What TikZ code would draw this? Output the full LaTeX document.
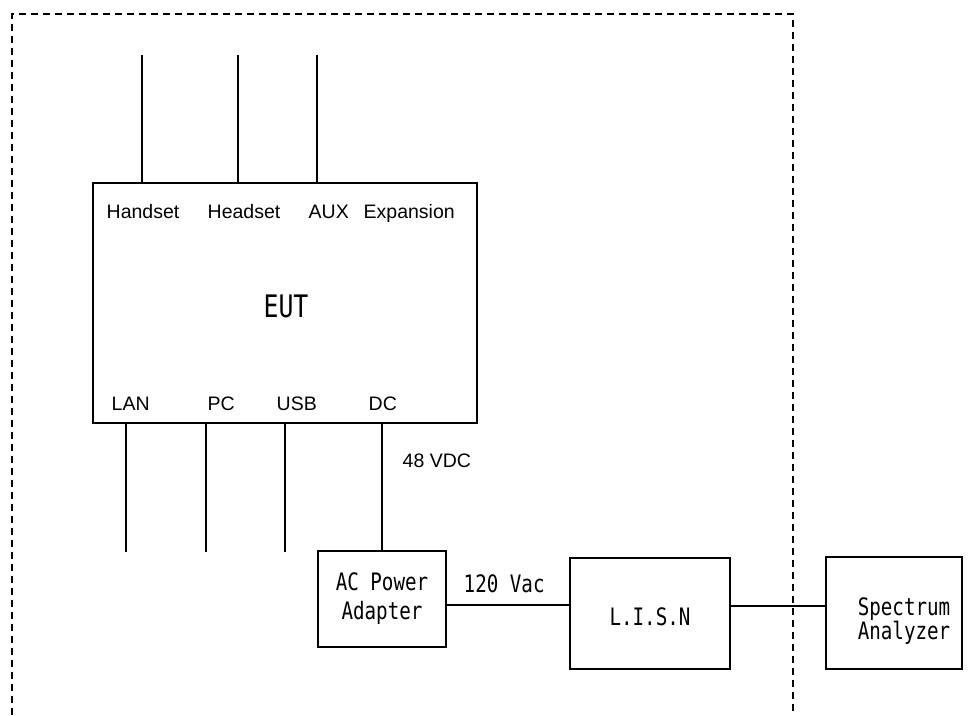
\documentclass[tikz,border=0pt]{standalone}
\usepackage{fontspec}
\setmainfont{Liberation Sans}
\newfontfamily\narrowmono[FakeStretch=0.8]{DejaVu Sans Mono}
\usetikzlibrary{positioning}

\tikzset{
    unit/.style={draw, line width=1.6pt, align=center, inner sep=0pt},
    port/.style={inner sep=0pt, anchor=base west, font=\fontsize{19.5}{21}\selectfont},
    lbl/.style={inner sep=0pt, font=\narrowmono\fontsize{24}{29}\selectfont}
}

\begin{document}
\begin{tikzpicture}[x=1pt, y=-1pt, line width=1.4pt]
            \useasboundingbox (0,0) rectangle (972,715);

            % test site boundary
            \draw [dash pattern=on 7pt off 5pt, line width=1.4pt] (12,715) -- (12,14) -- (793,14) -- (793,715);

            % equipment
            \node [unit, minimum width=384pt, minimum height=240pt] (eut) at (285,303) {};
            \node [lbl, font=\narrowmono\fontsize{31}{32}\selectfont] (eutname) at (286,306) {EUT};
            \node [unit, minimum width=128pt, minimum height=96pt, lbl] (adapter) at (382,599) {AC Power\\ Adapter};
            \node [unit, minimum width=160pt, minimum height=111pt] (lisn) at (650,613.5) {};
            \node [lbl] (lisnname) at (650,617) {L.I.S.N};
            \node [unit, minimum width=136pt, minimum height=112pt] (analyzer) at (894,613) {};
            \node [lbl, align=left, font=\narrowmono\fontsize{24}{22}\selectfont] (analyzername) at (904,621) {Spectrum\\Analyzer};

            % port names
            \node [port] (handset) at (106,218) {Handset};
            \node [port] (headset) at (207,218) {Headset};
            \node [port] (aux) at (308,218) {AUX};
            \node [port] (expansion) at (363,218) {Expansion};
            \node [port] (lan) at (111,410) {LAN};
            \node [port] (pc) at (207,410) {PC};
            \node [port] (usb) at (276,410) {USB};
            \node [port] (dc) at (368,410) {DC};

            % cable ends
            \coordinate (hsend) at (142,55);
            \coordinate (hdend) at (238,55);
            \coordinate (auxend) at (317,55);
            \coordinate (lanend) at (126,552);
            \coordinate (pcend) at (206,552);
            \coordinate (usbend) at (285,552);

            \draw (hsend) -- (hsend |- eut.north);
            \draw (hdend) -- (hdend |- eut.north);
            \draw (auxend) -- (auxend |- eut.north);
            \draw (lanend |- eut.south) -- (lanend);
            \draw (pcend |- eut.south) -- (pcend);
            \draw (usbend |- eut.south) -- (usbend);

            \draw (adapter.north |- eut.south) -- (adapter.north);
            \node [port] (vdc) at (402,467) {48 VDC};

            \draw ([yshift=-6pt]adapter.east) coordinate (acout) -- (acout -| lisn.west);
            \node [lbl, anchor=base west] (vac) at (463,592) {120 Vac};
            \draw ([yshift=7.5pt]lisn.east) coordinate (rfout) -- (rfout -| analyzer.west);
        \end{tikzpicture}
\end{document}
